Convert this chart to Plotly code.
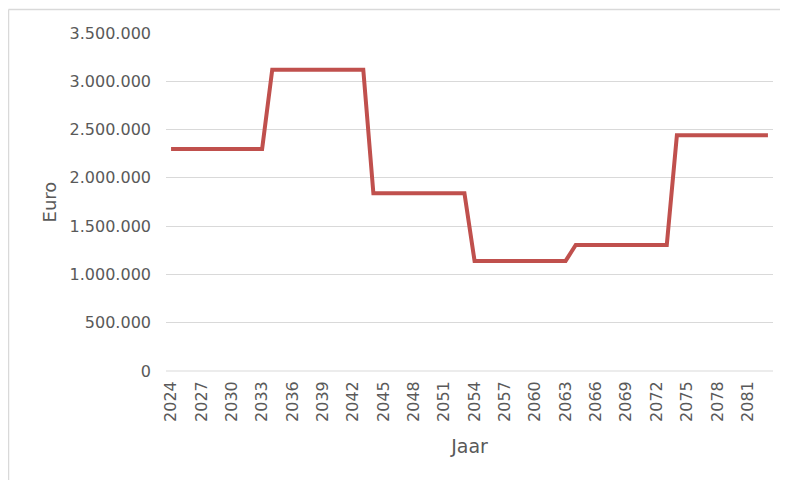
import plotly.graph_objects as go

years = [str(y) for y in range(2024, 2084)]
values = [
    2300000, 2300000, 2300000, 2300000, 2300000, 2300000, 2300000, 2300000, 2300000, 2300000,
    3120000, 3120000, 3120000, 3120000, 3120000, 3120000, 3120000, 3120000, 3120000, 3120000,
    1840000, 1840000, 1840000, 1840000, 1840000, 1840000, 1840000, 1840000, 1840000, 1840000,
    1140000, 1140000, 1140000, 1140000, 1140000, 1140000, 1140000, 1140000, 1140000, 1140000,
    1305000, 1305000, 1305000, 1305000, 1305000, 1305000, 1305000, 1305000, 1305000, 1305000,
    2440000, 2440000, 2440000, 2440000, 2440000, 2440000, 2440000, 2440000, 2440000, 2440000,
]
tick_years = years[::3]
y_ticks = [0, 500000, 1000000, 1500000, 2000000, 2500000, 3000000, 3500000]

FONT = "DejaVu Sans"
TXT = "#595959"
GRID = "#D9D9D9"

fig = go.Figure()
fig.add_trace(go.Scatter(
    x=years, y=values, mode="lines",
    line=dict(color="#C0504D", width=4),
    hoverinfo="skip", showlegend=False,
))

fig.update_layout(
    width=780, height=472,
    margin=dict(l=158, r=15, t=25, b=109),
    paper_bgcolor="white", plot_bgcolor="white",
    separators=",.",
    font=dict(family=FONT, color=TXT, size=16),
    xaxis=dict(
        type="category",
        range=[-0.5, len(years) - 0.5],
        tickmode="array", tickvals=tick_years, ticktext=tick_years,
        tickangle=-90,
        tickfont=dict(family=FONT, size=16, color=TXT),
        showgrid=False, zeroline=False,
        showline=False,
        ticks="", ticklabelstandoff=6,
        title=dict(text="Jaar", font=dict(family=FONT, size=19, color=TXT), standoff=18),
    ),
    yaxis=dict(
        range=[0, 3500000],
        tickmode="array", tickvals=y_ticks,
        tickformat=",d",
        tickfont=dict(family=FONT, size=16, color=TXT),
        showgrid=True, gridcolor=GRID, gridwidth=1,
        zeroline=False, showline=False, ticks="",
        ticklabelstandoff=14,
        title=dict(text="Euro", font=dict(family=FONT, size=18, color=TXT), standoff=8),
    ),
    shapes=[
        dict(type="line", xref="paper", yref="paper",
             x0=-0.2595, x1=1.2, y0=1.0695, y1=1.0695,
             line=dict(color=GRID, width=1.5)),
        dict(type="line", xref="paper", yref="paper",
             x0=-0.2595, x1=-0.2595, y0=-0.5, y1=1.0695,
             line=dict(color=GRID, width=1.5)),
        dict(type="line", xref="paper", yref="paper",
             x0=0, x1=1, y0=0, y1=0,
             line=dict(color=GRID, width=1), layer="below"),
    ],
)

fig.write_html("out.html")
